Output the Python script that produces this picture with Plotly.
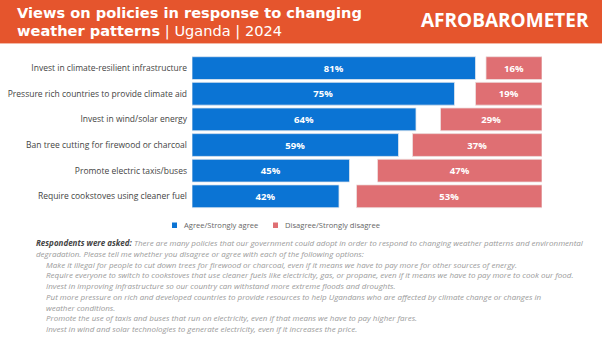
import plotly.graph_objects as go

# Survey results (percent of respondents)
policies = [
    "Invest in climate-resilient infrastructure",
    "Pressure rich countries to provide climate aid",
    "Invest in wind/solar energy",
    "Ban tree cutting for firewood or charcoal",
    "Promote electric taxis/buses",
    "Require cookstoves using cleaner fuel",
]
agree = [81, 75, 64, 59, 45, 42]
disagree = [16, 19, 29, 37, 47, 53]

series_names = ["Agree/Strongly agree", "Disagree/Strongly disagree"]

question_lines = [
    "<b>Respondents were asked:</b> There are many policies that our government could adopt in order to respond to changing weather patterns and environmental",
    "degradation. Please tell me whether you disagree or agree with each of the following options:",
    "Make it illegal for people to cut down trees for firewood or charcoal, even if it means we have to pay more for other sources of energy.",
    "Require everyone to switch to cookstoves that use cleaner fuels like electricity, gas, or propane, even if it means we have to pay more to cook our food.",
    "Invest in improving infrastructure so our country can withstand more extreme floods and droughts.",
    "Put more pressure on rich and developed countries to provide resources to help Ugandans who are affected by climate change or changes in",
    "weather conditions.",
    "Promote the use of taxis and buses that run on electricity, even if that means we have to pay higher fares.",
    "Invest in wind and solar technologies to generate electricity, even if it increases the price.",
]
question_indent = [False, False, True, True, True, True, True, True, True]

W, H = 602, 345
FULL = 100  # axis span: agree grows from the left, disagree is aligned to the right

BLUE = "#0B74D4"
RED = "#DF6F73"
ORANGE = "#E5552D"
FONT = "Open Sans"
TITLE_FONT = "DejaVu Sans"


def px_x(v):
    return v / W


def px_y(v):
    return 1 - v / H


fig = go.Figure()

fig.add_trace(go.Bar(
    y=policies, x=agree, orientation="h", name=series_names[0],
    marker=dict(color=BLUE, line=dict(color="#dfe6ee", width=0.8)),
    texttemplate="<b>%{x}%</b>", textposition="inside", insidetextanchor="middle",
    textangle=0, textfont=dict(color="white", size=9.5, family=FONT),
    showlegend=False,
))
fig.add_trace(go.Bar(
    y=policies, x=disagree, base=[FULL - d for d in disagree], orientation="h",
    name=series_names[1],
    marker=dict(color=RED, line=dict(color="#eee0e0", width=0.8)),
    texttemplate="<b>%{x}%</b>", textposition="inside", insidetextanchor="middle",
    textangle=0, textfont=dict(color="white", size=9.5, family=FONT),
    showlegend=False,
))

shapes = [
    # header band
    dict(type="rect", xref="paper", yref="paper", x0=0, x1=1, y0=px_y(43), y1=1,
         fillcolor=ORANGE, line=dict(width=0), layer="below"),
    dict(type="line", xref="paper", yref="paper", x0=0, x1=1, y0=px_y(43.5), y1=px_y(43.5),
         line=dict(color="#F3B8A6", width=1)),
    # legend swatches
    dict(type="rect", xref="paper", yref="paper", x0=px_x(172), x1=px_x(177),
         y0=px_y(228), y1=px_y(222.5), fillcolor=BLUE, line=dict(width=0)),
    dict(type="rect", xref="paper", yref="paper", x0=px_x(273), x1=px_x(278),
         y0=px_y(228), y1=px_y(222.5), fillcolor=RED, line=dict(width=0)),
]

annotations = [
    dict(text="<b>Views on policies in response to changing</b>", x=px_x(15), y=px_y(12.5),
         font=dict(family=TITLE_FONT, size=14.6, color="white")),
    dict(text="<b>weather patterns</b> | Uganda | 2024", x=px_x(15), y=px_y(31),
         font=dict(family=TITLE_FONT, size=14.6, color="white")),
    dict(text="<b>AFROBAROMETER</b>", x=px_x(505), y=px_y(19.5), xanchor="center",
         font=dict(family=FONT, size=19, color="white")),
    dict(text=series_names[0], x=px_x(182), y=px_y(225.3),
         font=dict(family=FONT, size=7.6, color="#666")),
    dict(text=series_names[1], x=px_x(283), y=px_y(225.3),
         font=dict(family=FONT, size=7.6, color="#666")),
]

for i, (line, indent) in enumerate(zip(question_lines, question_indent)):
    text = line.replace("<b>", "<b><span style='color:#444'>").replace("</b>", "</span></b>")
    annotations.append(dict(
        text="<i>" + text + "</i>", x=px_x(44.3 if indent else 34.3), y=px_y(242.5 + i * 10.75),
        font=dict(family=FONT, size=8, color="#9a9a9a"),
    ))

for a in annotations:
    a.setdefault("xanchor", "left")
    a.update(xref="paper", yref="paper", yanchor="middle", showarrow=False)

fig.update_layout(
    width=W, height=H, autosize=False,
    margin=dict(l=0, r=0, t=0, b=0),
    paper_bgcolor="white", plot_bgcolor="white",
    barmode="overlay", bargap=0.11,
    shapes=shapes, annotations=annotations,
    xaxis=dict(domain=[px_x(192), px_x(542)], range=[0, FULL], visible=False, fixedrange=True),
    yaxis=dict(domain=[px_y(209.1), px_y(55.3)], autorange="reversed", showgrid=False,
               zeroline=False, showline=False, ticks="", ticklabelstandoff=4,
               tickfont=dict(family=FONT, size=8.5, color="#444"), fixedrange=True),
    font=dict(family=FONT),
)

fig.write_html("out.html")
